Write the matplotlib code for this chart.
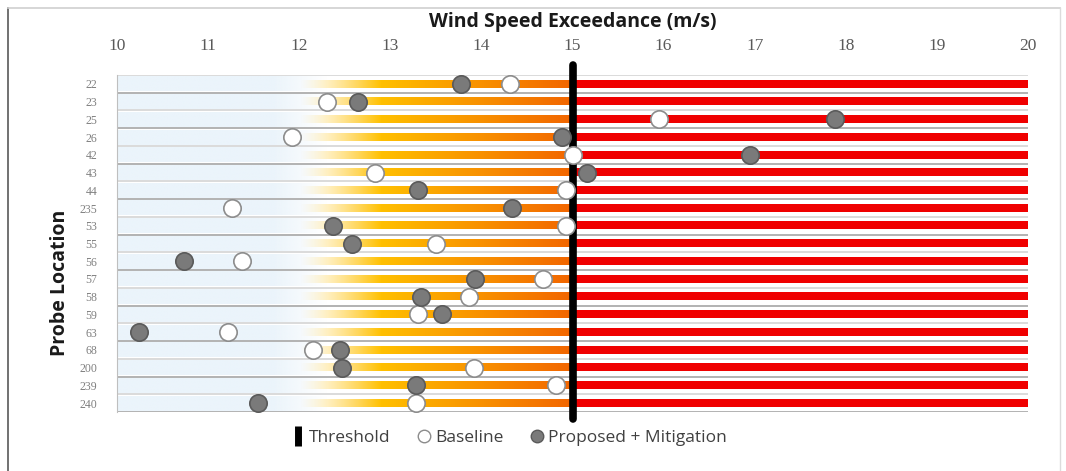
import numpy as np
import matplotlib.pyplot as plt
import matplotlib.colors as mcolors
from matplotlib.lines import Line2D

# probe locations, top to bottom
probes = ["22", "23", "25", "26", "42", "43", "44", "235", "53", "55",
          "56", "57", "58", "59", "63", "68", "200", "239", "240"]

# wind speed exceedance (m/s)
baseline = [14.31, 12.31, 15.95, 11.92, 15.00, 12.83, 14.93, 11.26, 14.93, 13.50,
            11.37, 14.68, 13.86, 13.30, 11.22, 12.15, 13.92, 14.82, 13.28]
proposed = [13.78, 12.64, 17.88, 14.88, 16.95, 15.16, 13.30, 14.34, 12.37, 12.58,
            10.74, 13.93, 13.34, 13.57, 10.24, 12.45, 12.47, 13.28, 11.55]

threshold = 15
x_min, x_max = 10, 20

# ---- gradient for the bars ----
xs = np.linspace(x_min, x_max, 1000)
yellow = np.array(mcolors.to_rgb("#ffc000"))
orange = np.array(mcolors.to_rgb("#f26500"))
red = np.array(mcolors.to_rgb("#f00000"))
blue = np.array(mcolors.to_rgb("#ebf4fb"))

bar_rgba = np.zeros((1, len(xs), 4))
back_rgba = np.zeros((1, len(xs), 4))
for k, v in enumerate(xs):
    if v < threshold:
        t = np.clip((v - 12.9) / (threshold - 12.9), 0, 1)
        col = yellow * (1 - t) + orange * t
        a = np.clip((v - 12.0) / 0.9, 0, 1) ** 1.3
    else:
        col = red
        a = 1.0
    bar_rgba[0, k, :3] = col
    bar_rgba[0, k, 3] = a
    back_rgba[0, k, :3] = blue
    back_rgba[0, k, 3] = np.clip((12.3 - v) / 0.6, 0, 1)

fig = plt.figure(figsize=(10.66, 4.71), dpi=100)
ax = fig.add_axes([117 / 1066, 1 - 412 / 471, 911 / 1066, 337 / 471])

n = len(probes)
for i in range(n):
    ax.imshow(back_rgba, extent=(x_min, x_max, i + 0.42, i - 0.42),
              aspect="auto", interpolation="bilinear", zorder=1)
    ax.imshow(bar_rgba, extent=(x_min, x_max, i + 0.21, i - 0.21),
              aspect="auto", interpolation="bilinear", zorder=2)

# row separators, alternating shade
for i in range(n + 1):
    shade = "#a6a6a6" if i % 2 == 1 else "#d4d4d4"
    ax.plot([x_min, x_max], [i - 0.5, i - 0.5], color=shade, lw=1.2, zorder=1.5)

# threshold line
ax.plot([threshold, threshold], [-1.05, n - 0.08], color="black", lw=5.5,
        solid_capstyle="round", clip_on=False, zorder=3)

ypos = np.arange(n)
ax.plot(baseline, ypos, "o", ms=12.5, mfc="white", mec="#8c8c8c", mew=1.2, zorder=4)
ax.plot(proposed, ypos, "o", ms=12.5, mfc="#7a7a7a", mec="#5a5a5a", mew=1.2, zorder=4)

ax.set_xlim(x_min, x_max)
ax.set_ylim(n - 0.5, -0.5)
ax.xaxis.tick_top()
ax.set_xticks(range(x_min, x_max + 1))
ax.set_yticks(ypos)
ax.set_yticklabels(probes)
ax.tick_params(axis="x", length=0, pad=15, labelsize=12.5, labelcolor="#595959")
ax.tick_params(axis="y", length=0, pad=14, labelsize=8.5, labelcolor="#7f7f7f")
for lab in ax.get_xticklabels() + ax.get_yticklabels():
    lab.set_family("Liberation Serif")
for s in ["top", "right", "bottom"]:
    ax.spines[s].set_visible(False)
ax.spines["left"].set_color("#bfbfbf")

fig.text(573 / 1066, 1 - 22 / 471, "Wind Speed Exceedance (m/s)", ha="center",
         va="center", fontsize=14, fontweight="bold", family="Open Sans", color="#1a1a1a")
fig.text(60 / 1066, 1 - 283 / 471, "Probe Location", ha="center", va="center",
         rotation=90, fontsize=14, fontweight="bold", family="Open Sans", color="#1a1a1a")

# chart border
fig.add_artist(Line2D([8 / 1066, 8 / 1066], [0, 1 - 8 / 471], color="#595959", lw=1.2))
fig.add_artist(Line2D([8 / 1066, 1060 / 1066], [1 - 8 / 471, 1 - 8 / 471], color="#cfcfcf", lw=1.2))
fig.add_artist(Line2D([1060 / 1066, 1060 / 1066], [0, 1 - 8 / 471], color="#dcdcdc", lw=1.0))

handles = [
    Line2D([], [], color="black", marker="|", ms=14, mew=5, ls="None"),
    Line2D([], [], marker="o", ms=9, mfc="white", mec="#8c8c8c", ls="None"),
    Line2D([], [], marker="o", ms=9, mfc="#7a7a7a", mec="#5a5a5a", ls="None"),
]
fig.legend(handles, ["Threshold", "Baseline", "Proposed + Mitigation"],
           loc="center", bbox_to_anchor=(508 / 1066, 1 - 438 / 471), ncol=3,
           frameon=False, handletextpad=0.15, columnspacing=1.4, handlelength=1.0,
           prop={"family": "Open Sans", "size": 12.5}, labelcolor="#404040")

fig.savefig("out.png", dpi=100)
